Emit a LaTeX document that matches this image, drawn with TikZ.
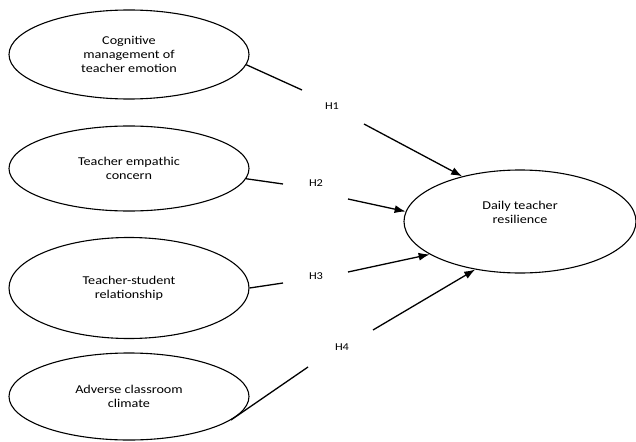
\documentclass[tikz,border=0pt]{standalone}
\usepackage{fontspec}
\setmainfont{Carlito}[FakeStretch=1.18]
\usetikzlibrary{shapes.geometric,arrows.meta}
\begin{document}
\begin{tikzpicture}[x=1pt,y=-1pt,
  construct/.style={draw,ellipse,line width=1.1pt,inner sep=0pt,align=center,
    font=\fontsize{12}{14}\selectfont},
  hlab/.style={inner sep=0pt,font=\fontsize{10.5}{12}\selectfont},
  link/.style={line width=1.3pt},
  path/.style={line width=1.3pt,-{Latex[length=11pt,width=8pt]}}]
\useasboundingbox (0,0) rectangle (636,441);
\node[construct,minimum width=240,minimum height=89] (e1) at (129,54.5) {Cognitive\\management of\\teacher emotion};
\node[construct,minimum width=240,minimum height=85] (e2) at (129,168.5) {Teacher empathic\\concern};
\node[construct,minimum width=240,minimum height=101] (e3) at (129,288) {Teacher-student\\relationship};
\node[construct,minimum width=240,minimum height=87] (e4) at (129,396.5) {Adverse classroom\\climate};
\node[construct,minimum width=232,minimum height=103] (t) at (520,221.5) {Daily teacher\\resilience\\[4pt]};
\node[hlab] (h1) at (332,106) {H1};
\node[hlab] (h2) at (316,183) {H2};
\node[hlab] (h3) at (316,276) {H3};
\node[hlab] (h4) at (342,347) {H4};
\coordinate (c1) at (302,90);
\coordinate (c2) at (283,184);
\coordinate (c3) at (283,283);
\coordinate (c4) at (308,367);
\coordinate (s1) at (364,124);
\coordinate (s2) at (348,199);
\coordinate (s3) at (348,272);
\coordinate (s4) at (373,330);
\draw[link] (e1.-5) -- (c1);
\draw[link] (e2.-5) -- (c2);
\draw[link] (e3.0) -- (c3);
\draw[link] (e4.-13) -- (c4);
\draw[path] (s1) -- (t.142.7);
\draw[path] (s2) -- (t.175.8);
\draw[path] (s3) -- (t.200.3);
\draw[path] (s4) -- (t.227);
\end{tikzpicture}
\end{document}
